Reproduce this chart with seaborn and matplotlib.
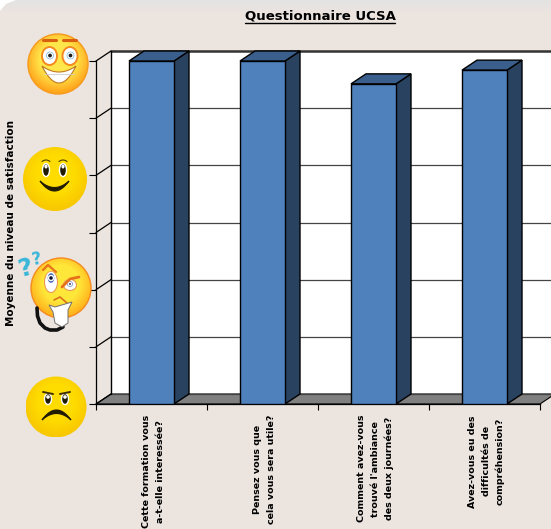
import numpy as np
import matplotlib
matplotlib.use("Agg")
import matplotlib.pyplot as plt
import seaborn as sns
from matplotlib.colors import LinearSegmentedColormap
from matplotlib.patches import Circle, Ellipse, Polygon, Rectangle
from matplotlib.transforms import ScaledTranslation

sns.set_style("white")
plt.rcParams["font.family"] = ["DejaVu Sans"]

TITLE = "Questionnaire UCSA"
YLABEL = "Moyenne du niveau de satisfaction"
QUESTIONS = [
    "Cette formation vous\na-t-elle interessée?",
    "Pensez vous que\ncela vous sera utile?",
    "Comment avez-vous\ntrouvé l'ambiance\ndes deux journées?",
    "Avez-vous eu des\ndifficultés de\ncompréhension?",
]
SCORES = [3.0, 3.0, 2.8, 2.92]
YTICKS = [0, 0.5, 1, 1.5, 2, 2.5, 3]

W, H = 551, 529
BG = "#ebe4df"
FRONT = "#4f81bd"
SIDE = "#284260"
TOP = "#3a5f8c"
FLOOR = "#808080"


def ball(ax, cx, cy, r, inner, outer, edge=None, vmin=0.6):
    # radial gradient clipped to a circle
    yy, xx = np.mgrid[-1:1:120j, -1:1:120j]
    dist = np.sqrt(xx**2 + (yy + 0.15)**2)
    cmap = LinearSegmentedColormap.from_list("b", [inner, outer])
    im = ax.imshow(dist, extent=(cx - r, cx + r, cy + r, cy - r), cmap=cmap,
                   vmin=vmin, vmax=1.1, zorder=2, aspect="auto")
    clip = Circle((cx, cy), r, transform=ax.transData, fc="none", ec=edge or "none", lw=1, zorder=3)
    ax.add_patch(clip)
    im.set_clip_path(clip)


def crescent(ax, x0, x1, y0, low_top, low_bot, color, ec="none", z=5):
    t = np.linspace(0, 1, 30)
    x = x0 + (x1 - x0) * t
    a = y0 + low_top * 4 * t * (1 - t)
    b = y0 + low_bot * 4 * t * (1 - t)
    pts = np.r_[np.c_[x, a], np.c_[x, b][::-1]]
    ax.add_patch(Polygon(pts, fc=color, ec=ec, lw=0.8, zorder=z))


def curve(ax, xs, ys, color, lw):
    ax.plot(xs, ys, color=color, lw=lw, solid_capstyle="round", zorder=6)


def grin_face(ax):
    ball(ax, 58, 64, 30, "#ffe64a", "#ffa51c", "#f59a1c")
    crescent(ax, 42, 76, 66, 6, 17, "white", "#c07a20")
    curve(ax, [44, 74], [74, 74], "#cccccc", 0.6)
    for x in (49.5, 70):
        ax.add_patch(Ellipse((x, 56), 15, 18, fc="white", ec="#f58a20", lw=1.4, zorder=5))
        ax.add_patch(Circle((x + 0.5, 55.5), 4.5, fc="#4a9cd0", zorder=6))
        ax.add_patch(Circle((x + 0.5, 55.5), 2.6, fc="#202020", zorder=7))
        curve(ax, [x - 7, x + 6], [40, 40], "#d9600f", 2.2)


def smile_face(ax):
    ball(ax, 55, 179, 32, "#ffdc00", "#f8c800")
    for x in (46, 63):
        ax.add_patch(Ellipse((x, 170), 7, 13, fc="#201a00", zorder=5))
        ax.add_patch(Ellipse((x, 166.5), 1.8, 2.6, fc="white", zorder=6))
        t = np.linspace(-1, 1, 12)
        curve(ax, x + 4 * t, 160 + 1.5 * t**2, "#4a3c00", 0.8)
    crescent(ax, 40, 69, 181, 6.5, 10, "#201a00", "#201a00")


def think_face(ax):
    curve(ax, [37, 37.5, 40, 45, 50, 57, 63], [308, 316, 323, 328, 330, 330, 327], "#111111", 2.6)
    ball(ax, 61, 288, 30, "#ffe83a", "#ffb21c", "#f58a20")
    ax.add_patch(Ellipse((51, 282), 13, 21, fc="white", ec="#e89a50", lw=0.8, zorder=5))
    ax.add_patch(Ellipse((51, 278), 8, 11, fc="#3c66b0", zorder=6))
    ax.add_patch(Circle((51, 278), 2.5, fc="#101030", zorder=7))
    ax.add_patch(Ellipse((70, 285), 13, 11, fc="white", ec="#e89a50", lw=0.8, zorder=5))
    ax.add_patch(Circle((70, 284), 3.5, fc="#3c66b0", zorder=6))
    ax.add_patch(Circle((70, 284), 1.6, fc="#101030", zorder=7))
    curve(ax, [43, 48, 56], [270, 265, 272], "#e8701a", 1.6)
    curve(ax, [62, 70, 79], [287, 279, 277], "#e8701a", 2)
    curve(ax, [54, 60, 67], [300, 297, 303], "#d9701a", 1.2)
    hand = [(49, 305), (55, 307), (72, 302), (68, 310), (68, 323), (62, 327), (55, 323), (53, 312)]
    ax.add_patch(Polygon(hand, fc="white", ec="#707070", lw=0.7, zorder=7))
    ax.text(25, 268, "?", color="#38b6d8", fontsize=18, fontweight="bold", ha="center", va="center",
            rotation=15, zorder=7)
    ax.text(37, 259, "?", color="#38b6d8", fontsize=12, fontweight="bold", ha="center", va="center",
            rotation=10, zorder=7)


def sad_face(ax):
    ball(ax, 56, 407, 30.5, "#ffdc00", "#f8c800")
    for x, d in [(48, 1), (65, -1)]:
        ax.add_patch(Ellipse((x, 399), 7, 11, fc="#201a00", zorder=5))
        ax.add_patch(Ellipse((x, 397), 2.2, 2.2, fc="white", zorder=6))
        curve(ax, [x - 5, x + 5], [393 - d, 393 + d], "#403000", 1.4)
    crescent(ax, 42, 71, 420, -10, -6.5, "#201a00", "#201a00")


def main():
    fig = plt.figure(figsize=(W / 100, H / 100), dpi=100, facecolor=BG)

    # page background
    bg = fig.add_axes([0, 0, 1, 1], zorder=0)
    bg.axis("off")
    band = np.linspace(0, 1, 30)[:, None]
    bg.imshow(band, extent=(0, W, 12, 0), aspect="auto", zorder=1,
              cmap=LinearSegmentedColormap.from_list("t", ["#e3e3e3", BG]))
    bg.add_patch(Polygon([(0, 0), (16, 0), (6, 4), (0, 11)], fc="white", ec="none", zorder=2))
    bg.set_xlim(0, W)
    bg.set_ylim(H, 0)

    # front plane of the chart
    ax = fig.add_axes([96 / W, (H - 404) / H, (W - 96) / W, (404 - 61) / H], zorder=2)
    ax.patch.set_alpha(0)
    sns.barplot(x=QUESTIONS, y=SCORES, color=FRONT, saturation=1, width=45 / 111,
                edgecolor="black", linewidth=1, ax=ax, zorder=5)
    x0, x_end = -0.5, 3.5
    x1 = x0 + (W - 96) / 111
    ax.set_xlim(x0, x1)
    ax.set_ylim(0, 3)
    dx = 15 / 111
    dy = 10 / (343 / 3)

    # side and top faces from the drawn bars
    for bar in list(ax.patches):
        if not isinstance(bar, Rectangle) or bar.get_height() == 0:
            continue
        left, right, h = bar.get_x(), bar.get_x() + bar.get_width(), bar.get_height()
        ax.add_patch(Polygon([(right, 0), (right + dx, dy), (right + dx, h + dy), (right, h)],
                             fc=SIDE, ec="black", lw=1, zorder=4, clip_on=False))
        ax.add_patch(Polygon([(left, h), (left + dx, h + dy), (right + dx, h + dy), (right, h)],
                             fc=TOP, ec="black", lw=1, zorder=4, clip_on=False))

    # walls and floor
    ax.add_patch(Polygon([(x0, 0), (x0 + dx, dy), (x0 + dx, 3 + dy), (x_end + dx, 3 + dy), (x_end + dx, dy), (x_end, 0)],
                         fc="white", ec="none", clip_on=False, zorder=0))
    ax.add_patch(Polygon([(x0, 0), (x0 + dx, dy), (x_end + dx, dy), (x_end, 0)],
                         fc=FLOOR, ec="black", lw=0.8, clip_on=False, zorder=1))
    for v in YTICKS:
        lw = 1.8 if v == 3 else 0.9
        color = "#333333" if v == 3 else "#444444"
        ax.plot([x0 + dx, x_end + dx], [v + dy, v + dy], color=color, lw=lw, clip_on=False, zorder=2)
        ax.plot([x0, x0 + dx], [v, v + dy], color="black", lw=0.9, clip_on=False, zorder=2)
    ax.plot([x0 + dx, x0 + dx], [dy, 3 + dy], color="black", lw=1, clip_on=False, zorder=2)

    sns.despine(ax=ax, top=True, right=True)
    ax.spines["left"].set_color("black")
    ax.spines["bottom"].set_color("black")
    ax.spines["left"].set_linewidth(0.9)
    ax.spines["bottom"].set_linewidth(0.9)
    ax.spines["bottom"].set_bounds(x0, x_end)
    ax.set_yticks(YTICKS)
    ax.set_yticklabels([])
    ax.tick_params(axis="y", length=5, width=0.8, color="black", left=True)
    ax.set_xticks(range(len(QUESTIONS)))
    ax.set_xticks(np.arange(-0.5, 4, 1), minor=True)
    ax.tick_params(axis="x", which="major", length=0)
    ax.tick_params(axis="x", which="minor", length=4.5, width=0.8, color="black", bottom=True)
    ax.set_xticklabels([])

    # question labels sit just under the axis, a little right of each bar
    offset = ax.get_xaxis_transform() + ScaledTranslation(2 / 100, -11 / 100, fig.dpi_scale_trans)
    for i, question in enumerate(QUESTIONS):
        ax.text(i, 0, question, transform=offset, rotation=90, fontsize=6.8, fontweight="bold",
                ha="center", va="top", multialignment="center", color="black", linespacing=1.6,
                clip_on=False)

    # text and faces, in pixels
    top = fig.add_axes([0, 0, 1, 1], zorder=3)
    top.patch.set_alpha(0)
    top.axis("off")
    grin_face(top)
    smile_face(top)
    think_face(top)
    sad_face(top)
    top.set_xlim(0, W)
    top.set_ylim(H, 0)
    top.text(320, 16, TITLE, fontsize=9.5, fontweight="bold", ha="center", va="center", color="black")
    top.plot([245, 395], [22.5, 22.5], color="black", lw=1)
    top.text(11, 223.5, YLABEL, fontsize=7.5, fontweight="bold", rotation=90, ha="center", va="center",
             color="black")

    fig.savefig("out.png", dpi=100, facecolor=BG)
    plt.close()


if __name__ == "__main__":
    main()
